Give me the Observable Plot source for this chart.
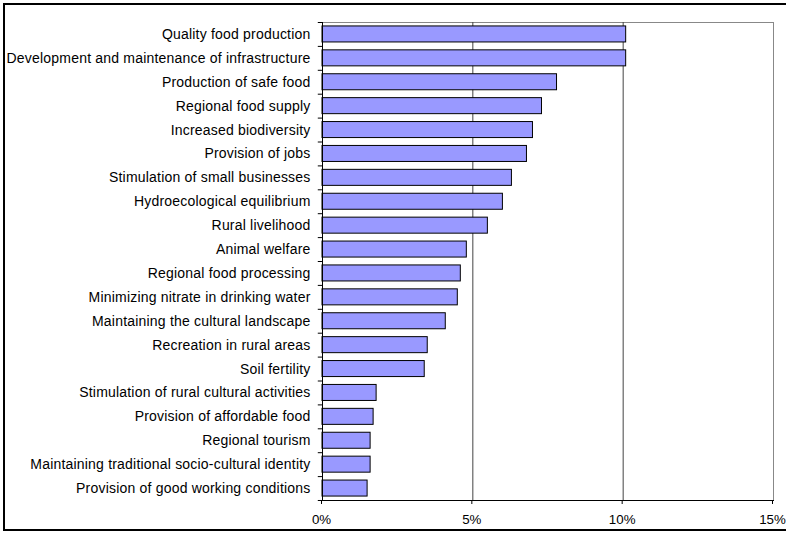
<!DOCTYPE html>
<html>
<head>
<meta charset="utf-8">
<script src="https://cdn.jsdelivr.net/npm/d3@7"></script>
<script src="https://cdn.jsdelivr.net/npm/@observablehq/plot@0.6"></script>
<style>
  html, body { margin: 0; padding: 0; background: #fff; }
  #chart { position: relative; width: 786px; height: 533px; overflow: hidden; }
  #chart svg { position: relative; z-index: 1; }
  #chart svg g[aria-label="y-axis tick label"] text { letter-spacing: 0.2px; }
  #border { position: absolute; left: 3px; top: 3px; width: 800px; height: 524px; border: 2px solid #000; pointer-events: none; z-index: 0; }
</style>
</head>
<body>
<div id="chart"><div id="border"></div></div>
<script>
const categories = [
  "Quality food production",
  "Development and maintenance of infrastructure",
  "Production of safe food",
  "Regional food supply",
  "Increased biodiversity",
  "Provision of jobs",
  "Stimulation of small businesses",
  "Hydroecological equilibrium",
  "Rural livelihood",
  "Animal welfare",
  "Regional food processing",
  "Minimizing nitrate in drinking water",
  "Maintaining the cultural landscape",
  "Recreation in rural areas",
  "Soil fertility",
  "Stimulation of rural cultural activities",
  "Provision of affordable food",
  "Regional tourism",
  "Maintaining traditional socio-cultural identity",
  "Provision of good working conditions"
];
const shares = [10.1, 10.1, 7.8, 7.3, 7.0, 6.8, 6.3, 6.0, 5.5, 4.8, 4.6, 4.5, 4.1, 3.5, 3.4, 1.8, 1.7, 1.6, 1.6, 1.5];
const xTicks = [0, 0.05, 0.10, 0.15];

const data = categories.map((c, i) => ({category: c, value: shares[i] / 100}));
const bandStep = (533 - 22 - 33) / categories.length;

const chart = Plot.plot({
  width: 786,
  height: 533,
  marginLeft: 322,
  marginRight: 13,
  marginTop: 22,
  marginBottom: 33,
  style: {fontFamily: "'Liberation Sans', Arial, sans-serif", fontSize: "14px", color: "#000", background: "transparent", overflow: "visible"},
  x: {domain: [0, 0.15], label: null},
  y: {domain: categories, paddingInner: 0.33, paddingOuter: 0.165, round: false, label: null},
  marks: [
    Plot.frame({stroke: "#888"}),
    Plot.ruleX(xTicks.slice(1, 3), {stroke: "#444", strokeWidth: 1}),
    Plot.barX(data, {x: "value", y: "category", fill: "#9999FF", stroke: "#000", strokeWidth: 1}),
    Plot.frame({anchor: "left", stroke: "#000"}),
    Plot.frame({anchor: "bottom", stroke: "#000"}),
    Plot.ruleY(data, {y: "category", x1: -0.0014, x2: 0, dy: -bandStep / 2, stroke: "#000"}),
    Plot.ruleY(data.slice(-1), {y: "category", x1: -0.0014, x2: 0, dy: bandStep / 2, stroke: "#000"}),
    Plot.axisX({ticks: xTicks, tickFormat: d3.format(".0%"), tickSize: 4, tickPadding: 10, label: null, fontSize: 13.3, dx: -1}),
    Plot.axisY({tickSize: 0, tickPadding: 12, label: null, fontSize: 14})
  ]
});
document.getElementById("chart").prepend(chart);
</script>
</body>
</html>
